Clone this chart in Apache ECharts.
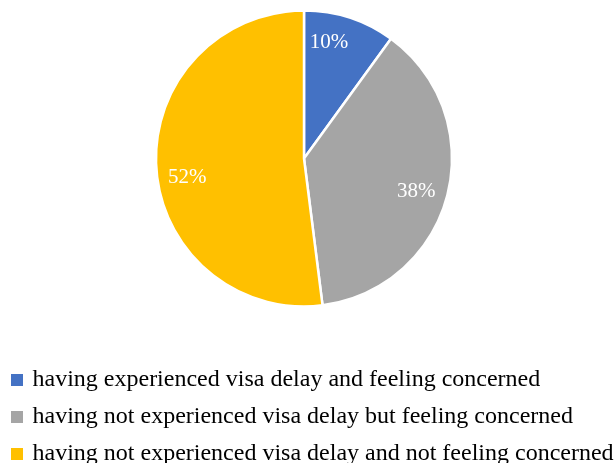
<!DOCTYPE html>
<html>
<head>
<meta charset="utf-8">
<title>Visa delay concern</title>
<script src="https://cdn.jsdelivr.net/npm/echarts@6/dist/echarts.min.js"></script>
<style>
  html, body { margin: 0; padding: 0; background: #fff; }
  #chart { width: 616px; height: 463px; }
</style>
</head>
<body>
<div id="chart"></div>
<script>
// Survey groups and their shares (percent)
const categories = [
  'having experienced visa delay and feeling concerned',
  'having not experienced visa delay but feeling concerned',
  'having not experienced visa delay and not feeling concerned'
];
const shares = [10, 38, 52];

// Slice colours and small label nudges (px) for readability
const sliceColors = ['#4472C4', '#A5A5A5', '#FFC000'];
const labelNudges = [[-12, -2], [-4, 3], [3, 11]];

const FONT = '"Liberation Serif", "Times New Roman", serif';
const CENTER = [304, 158.5];

const pieData = categories.map((name, i) => ({
  name,
  value: shares[i],
  itemStyle: { color: sliceColors[i] }
}));

const labelData = categories.map((name, i) => ({
  name,
  value: shares[i],
  label: { offset: labelNudges[i] }
}));

const chart = echarts.init(document.getElementById('chart'), null, { renderer: 'canvas' });
chart.setOption({
  backgroundColor: '#ffffff',
  animation: false,
  legend: {
    orient: 'vertical',
    left: 9,
    top: 368,
    height: 140,
    padding: 0,
    itemWidth: 14,
    itemHeight: 14,
    itemGap: 13,
    icon: 'rect',
    data: categories,
    textStyle: {
      fontFamily: FONT,
      fontSize: 24,
      lineHeight: 24,
      color: '#000000',
      padding: [0, 0, 0, 3.5]
    }
  },
  series: [
    {
      type: 'pie',
      center: CENTER,
      radius: 148,
      startAngle: 90,
      clockwise: true,
      data: pieData,
      itemStyle: { borderColor: '#ffffff', borderWidth: 2.5 },
      label: { show: false },
      labelLine: { show: false },
      emphasis: { disabled: true }
    },
    {
      // ring used only to place the percentage labels
      type: 'pie',
      center: CENTER,
      radius: [87, 147],
      startAngle: 90,
      clockwise: true,
      silent: true,
      data: labelData,
      itemStyle: { color: 'rgba(0,0,0,0)' },
      label: {
        show: true,
        position: 'inside',
        formatter: '{c}%',
        fontFamily: FONT,
        fontSize: 21,
        color: '#ffffff'
      },
      labelLine: { show: false },
      emphasis: { disabled: true }
    }
  ]
});
</script>
</body>
</html>
